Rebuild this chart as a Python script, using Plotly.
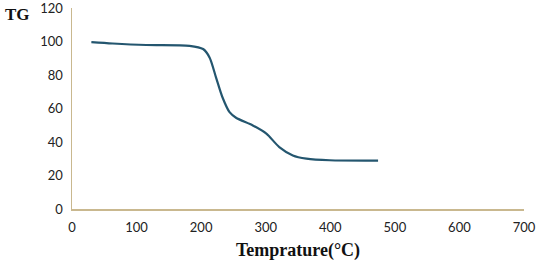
import plotly.graph_objects as go

temperature = [30, 63, 115, 182, 203, 213, 223, 233, 244, 254, 280, 301, 321, 342, 363, 399, 474]
tg = [99.6, 98.8, 97.9, 97.4, 95.5, 90.5, 78.6, 66.7, 57.8, 54.5, 49.9, 45.0, 37.0, 32.0, 30.1, 29.1, 28.9]
x_ticks = [0, 100, 200, 300, 400, 500, 600, 700]
y_ticks = [0, 20, 40, 60, 80, 100, 120]

fig = go.Figure(go.Scatter(
    x=temperature, y=tg, mode="lines",
    line=dict(color="#24566f", width=2.2, shape="spline", smoothing=0.8),
    hoverinfo="skip",
))

axis_color = "#c9b88f"
tick_font = dict(family="Lato, Open Sans, sans-serif", size=13, color="#222222")

L, R, T, B = 72, 16, 8, 55
W, H = 540, 264
pw, ph = W - L - R, H - T - B

fig.update_layout(
    width=W, height=H,
    margin=dict(l=L, r=R, t=T, b=B, autoexpand=False),
    paper_bgcolor="white", plot_bgcolor="white",
    showlegend=False,
    xaxis=dict(
        range=[0, 700], tickvals=x_ticks, showgrid=False, zeroline=False,
        showline=True, linecolor=axis_color, linewidth=1.5,
        ticks="", tickfont=tick_font, ticklabelstandoff=6,
        ticklabeloverflow="allow", automargin=False,
        title=dict(text="<b>Temprature(°C)</b>",
                   font=dict(family="Liberation Serif, serif", size=18, color="#111111"),
                   standoff=9),
    ),
    yaxis=dict(
        range=[0, 120], tickvals=y_ticks, showgrid=False, zeroline=False,
        showline=True, linecolor=axis_color, linewidth=1.5,
        ticks="", tickfont=tick_font, ticklabelstandoff=5,
        ticklabeloverflow="allow", automargin=False,
    ),
    annotations=[dict(
        text="<b>TG</b>", x=(3 - L) / pw, y=(H - B - 15) / ph,
        xref="paper", yref="paper",
        showarrow=False, xanchor="left", yanchor="middle",
        font=dict(family="Liberation Serif, serif", size=17, color="#111111"),
    )],
)

fig.write_html(
    "out.html",
    config={"displayModeBar": False, "staticPlot": True},
    post_script="document.body.style.margin='0';document.body.style.overflow='hidden';",
)
